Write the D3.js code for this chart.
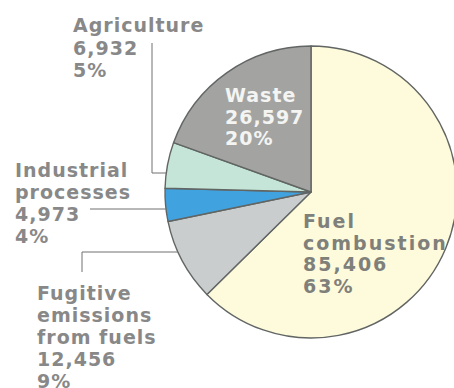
<!DOCTYPE html>
<html>
<head>
<meta charset="utf-8">
<script src="https://cdn.jsdelivr.net/npm/d3@7"></script>
<style>
  html, body { margin: 0; padding: 0; background: #ffffff; }
  svg { display: block; }
  .lbl { font-family: "DejaVu Sans", sans-serif; font-weight: bold; font-size: 19px; letter-spacing: 1px; }
</style>
</head>
<body>
<svg id="chart" width="454" height="388"></svg>
<script>
// Emission sources, clockwise from 12 o'clock
const sources = ["Fuel combustion", "Fugitive emissions from fuels", "Industrial processes", "Agriculture", "Waste"];
const emissions = [85406, 12456, 4973, 6932, 26597];
const shares = ["63%", "9%", "4%", "5%", "20%"];
const sliceColors = ["#fdfbdc", "#c9cdcd", "#40a3df", "#c4e5d7", "#a3a4a2"];

const svg = d3.select("#chart");
const cx = 311, cy = 192, r = 146;

const data = sources.map((s, i) => ({ name: s, value: emissions[i], share: shares[i], color: sliceColors[i] }));

const pie = d3.pie().value(d => d.value).sort(null);
const arc = d3.arc().innerRadius(0).outerRadius(r);

const g = svg.append("g").attr("transform", `translate(${cx},${cy})`);
g.selectAll("path")
  .data(pie(data))
  .join("path")
  .attr("d", arc)
  .attr("fill", d => d.data.color)
  .attr("stroke", "#616563")
  .attr("stroke-width", 1.4)
  .attr("stroke-linejoin", "round");

// x on the left rim of the pie for a given y
const rimX = y => cx - Math.sqrt(r * r - (y - cy) * (y - cy));

// Leader lines for the small slices labelled outside the pie
const leader = svg.append("g").attr("fill", "none").attr("stroke", "#707070").attr("stroke-width", 1);
leader.append("path").attr("d", `M152,43 V173 H${rimX(173)}`);
leader.append("path").attr("d", `M90,209 H${rimX(209)}`);
leader.append("path").attr("d", `M82,272 V252 H${rimX(252)}`);

const fmt = d3.format(",");

// Label blocks: name lines, value, share
const blocks = [
  { i: 3, lines: ["Agriculture"], x: 73, y: 32, color: "#888888", step: 22.5, spacing: 1 },
  { i: 2, lines: ["Industrial", "processes"], x: 15, y: 177, color: "#888888", step: 22, spacing: 1 },
  { i: 1, lines: ["Fugitive", "emissions", "from fuels"], x: 37, y: 300, color: "#888888", step: 22, spacing: 1 },
  { i: 4, lines: ["Waste"], x: 225, y: 102, color: "#f4f4f2", step: 21.5, spacing: 1 },
  { i: 0, lines: ["Fuel", "combustion"], x: 303, y: 228, color: "#80807b", step: 21.7, spacing: 2 }
];

blocks.forEach(b => {
  const d = data[b.i];
  const rows = b.lines.concat([fmt(d.value), d.share]);
  const t = svg.append("text").attr("class", "lbl").attr("fill", b.color)
    .style("letter-spacing", b.spacing + "px");
  rows.forEach((row, k) => {
    t.append("tspan").attr("x", b.x).attr("y", b.y + k * b.step).text(row);
  });
});
</script>
</body>
</html>
